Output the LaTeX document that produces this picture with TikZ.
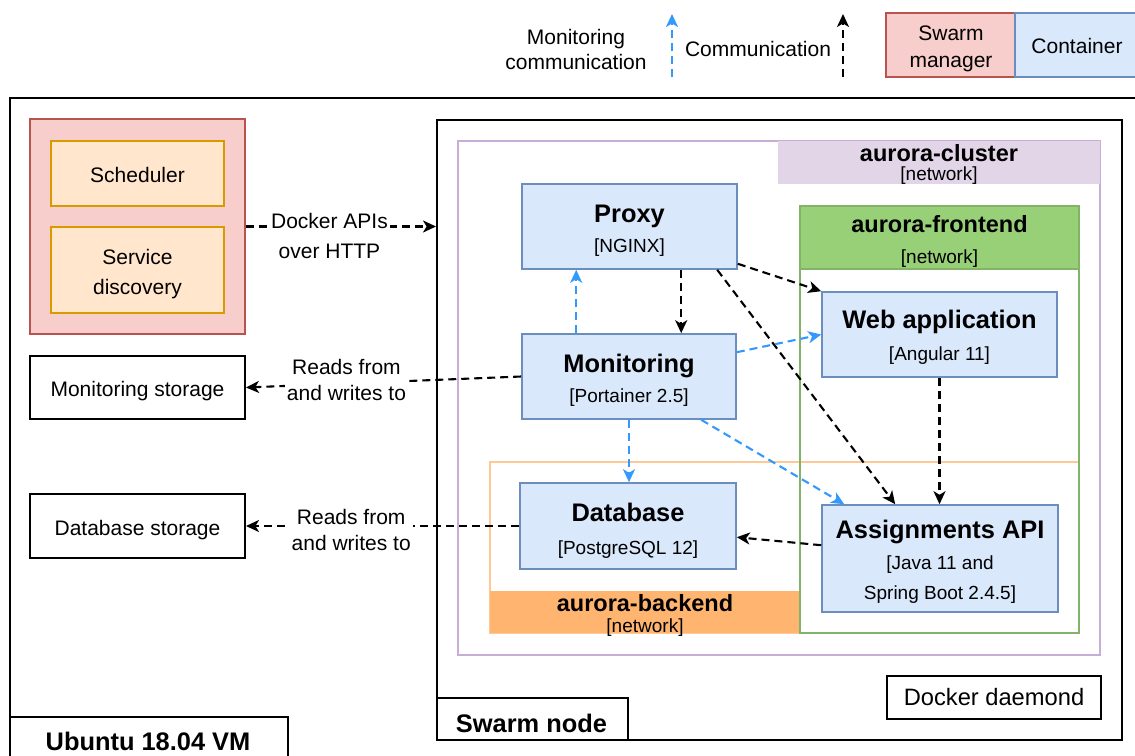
\documentclass[tikz,border=0pt]{standalone}
\usepackage{fontspec}
\setmainfont{Liberation Sans}
\usetikzlibrary{arrows.meta,fit,calc}
\definecolor{mblue}{HTML}{3399FF}
\definecolor{mgrf}{HTML}{F8CECC}
\definecolor{mgrs}{HTML}{B85450}
\definecolor{compf}{HTML}{FFE6CC}
\definecolor{comps}{HTML}{D79B00}
\definecolor{contf}{HTML}{DAE8FC}
\definecolor{conts}{HTML}{6C8EBF}
\definecolor{clus}{HTML}{C6AED6}
\definecolor{clusf}{HTML}{E1D5E7}
\definecolor{frs}{HTML}{82B366}
\definecolor{frf}{HTML}{97D077}
\definecolor{bks}{HTML}{FFC894}
\definecolor{bkf}{HTML}{FFB570}
\newcommand{\fReg}{\fontsize{10.5}{12.6}\selectfont}
\newcommand{\fTtl}{\fontsize{12.7}{15}\selectfont\bfseries}
\newcommand{\fSub}{\fontsize{9.5}{11.4}\selectfont}
\newcommand{\fNet}{\fontsize{11.75}{14}\selectfont\bfseries}
\newcommand{\fDd}{\fontsize{11.85}{14}\selectfont}
\begin{document}
\begin{tikzpicture}[x=0.5pt,y=-0.5pt,
  bx/.style={inner sep=0pt},
  vmbox/.style={bx, draw=black, line width=1.3pt},
  plainbox/.style={bx, draw=black, line width=1pt, fill=white},
  mgrbox/.style={bx, draw=mgrs, fill=mgrf, line width=0.8pt},
  compbox/.style={bx, draw=comps, fill=compf, line width=0.9pt},
  contbox/.style={bx, draw=conts, fill=contf, line width=0.8pt},
  clusbox/.style={bx, draw=clus, line width=0.7pt},
  clushdr/.style={bx, fill=clusf},
  frbox/.style={bx, draw=frs, line width=0.7pt},
  frhdr/.style={bx, fill=frf, draw=frs, line width=0.7pt},
  bkbox/.style={bx, draw=bks, line width=0.7pt},
  bkhdr/.style={bx, fill=bkf},
  tx/.style={inner sep=0pt, anchor=base},
  lbl/.style={fill=white, inner sep=1pt, align=center, font=\fontsize{10.5}{13}\selectfont},
  conn/.style={-{Stealth[length=6.5pt,width=6pt,inset=1.8pt]}, dash pattern=on 4pt off 2.5pt, line width=1.05pt, draw=black},
  mconn/.style={conn, draw=mblue, -{Stealth[length=6.5pt,width=6pt,inset=1.8pt,fill=mblue]}}
]
\useasboundingbox (0,0) rectangle (1135,755);

% legend
\node[tx, font=\fReg] (lg-mon1) at (576,44.5) {Monitoring};
\node[tx, font=\fReg] (lg-mon2) at (576,69.5) {communication};
\coordinate (lg-b1) at (672,77);
\coordinate (lg-t1) at (672,14);
\draw[mconn] (lg-b1) -- (lg-t1);
\node[tx, font=\fReg] (lg-com) at (758,56.5) {Communication};
\coordinate (lg-b2) at (843,77);
\coordinate (lg-t2) at (843,14);
\draw[conn] (lg-b2) -- (lg-t2);
\node[mgrbox, fit={(886,13)(1015,77)}] (lg-mgr) {};
\node[contbox, fit={(1015,13)(1150,77)}] (lg-cont) {};
\node[tx, font=\fReg] (lg-mgr1) at (951,40.5) {Swarm};
\node[tx, font=\fReg] (lg-mgr2) at (951,67.5) {manager};
\node[tx, font=\fReg] (lg-cont-t) at (1077,53.5) {Container};

% VM frame
\node[vmbox, fit={(10,98)(1150,775)}] (vm) {};
\node[plainbox, line width=1.3pt, fit={(10,717)(288,775)}] (vmlabel) {};
\node[tx, font=\fTtl] (vm-t) at (148,750.5) {Ubuntu 18.04 VM};

% swarm manager
\node[mgrbox, fit={(30,119)(245,334)}] (mgr) {};
\node[compbox, fit={(51,141)(224,206)}] (sched) {};
\node[compbox, fit={(51,227)(224,313)}] (sd) {};
\node[tx, font=\fReg] (sched-t) at (137.5,182.5) {Scheduler};
\node[tx, font=\fReg] (sd-t1) at (137.5,264.5) {Service};
\node[tx, font=\fReg] (sd-t2) at (137.5,294.5) {discovery};

% storages
\node[plainbox, fit={(30,356)(245,419)}] (monst) {};
\node[tx, font=\fReg] (monst-t) at (137.5,396.5) {Monitoring storage};
\node[plainbox, fit={(30,494)(245,558)}] (dbst) {};
\node[tx, font=\fReg] (dbst-t) at (137.5,535.5) {Database storage};

% swarm node
\node[plainbox, fit={(437,120)(1122,740)}] (swarm) {};
\node[plainbox, fit={(437,698)(628,740)}] (swarmlabel) {};
\node[tx, font=\fTtl] (swarm-t) at (531.5,732) {Swarm node};
\node[plainbox, fit={(887,676)(1101,719)}] (docker) {};
\node[tx, font=\fDd] (docker-t) at (994,705.5) {Docker daemond};

% networks
\node[clusbox, fit={(458,141)(1100,655)}] (cluster) {};
\node[clushdr, fit={(778,141)(1100,184)}] (clusterhdr) {};
\draw[clus, line width=0.7pt] (cluster.north west) rectangle (cluster.south east);
\node[tx, font=\fNet] (cluster-t) at (939,161.5) {aurora-cluster};
\node[tx, font=\fSub] (cluster-s) at (939,180) {[network]};

\node[bkbox, fit={(490,462)(1079,633)}] (back) {};
\node[frbox, fit={(800,206)(1079,633)}] (front) {};
\node[frhdr, fit={(800,206)(1079,269)}] (fronthdr) {};
\node[tx, font=\fNet] (front-t) at (939.5,232.5) {aurora-frontend};
\node[tx, font=\fSub] (front-s) at (939.5,263) {[network]};

\node[bkhdr, fit={(490,591)(800,633)}] (backhdr) {};
\draw[frs, line width=0.7pt] (800,591) -- (800,633) -- (1079,633);
\node[tx, font=\fNet] (back-t) at (645,611.5) {aurora-backend};
\node[tx, font=\fSub] (back-s) at (645,632) {[network]};

% containers
\node[contbox, fit={(522,184)(737,269)}] (proxy) {};
\node[tx, font=\fTtl] (proxy-t) at (629.5,222) {Proxy};
\node[tx, font=\fSub] (proxy-s) at (629.5,252) {[NGINX]};

\node[contbox, fit={(522,334)(736,419)}] (mon) {};
\node[tx, font=\fTtl] (mon-t) at (629,372) {Monitoring};
\node[tx, font=\fSub] (mon-s) at (629,402) {[Portainer 2.5]};

\node[contbox, fit={(520,483)(736,569)}] (db) {};
\node[tx, font=\fTtl] (db-t) at (628,521) {Database};
\node[tx, font=\fSub] (db-s) at (628,554) {[PostgreSQL 12]};

\node[contbox, fit={(822,292)(1057,377)}] (web) {};
\node[tx, font=\fTtl] (web-t) at (939.5,328) {Web application};
\node[tx, font=\fSub] (web-s) at (939.5,360) {[Angular 11]};

\node[contbox, fit={(822,505)(1058,612)}] (api) {};
\node[tx, font=\fTtl] (api-t) at (940,538) {Assignments API};
\node[tx, font=\fSub] (api-s1) at (940,569) {[Java 11 and};
\node[tx, font=\fSub] (api-s2) at (940,599) {Spring Boot 2.4.5]};

% connectors
\draw[conn] (mgr.east) -- node[lbl, pos=0.44, yshift=-4.75pt, font=\fontsize{10.5}{15}\selectfont] (l-docker) {Docker APIs\\over HTTP} (mgr.east -| swarm.west);
\draw[conn] (mon.west) -- node[lbl, pos=0.635, yshift=1.8pt] (l-monrw) {Reads from\\and writes to} (monst.east);
\draw[conn] (db.west) -- node[lbl, pos=0.615, yshift=-1.9pt] (l-dbrw) {Reads from\\and writes to} (dbst.east);

\draw[conn] ($(proxy.south west)+(160,0)$) -- ($(mon.north west)+(160,0)$);
\draw[mconn] ($(mon.north west)+(55,0)$) -- ($(proxy.south west)+(55,0)$);
\draw[conn] ($(proxy.south east)+(0,-6)$) -- (web.north west);
\draw[conn] ($(proxy.south west)+(196,0)$) -- ($(api.north west)+(74,0)$);
\draw[mconn] ($(mon.north east)+(0,19)$) -- (web.west);
\draw[mconn] (mon.south) -- (mon.south |- db.north);
\draw[mconn] ($(mon.south west)+(180,0)$) -- ($(api.north west)+(23,0)$);
\draw[conn] (web.south) -- (web.south |- api.north);
\draw[conn] ($(api.north west)+(0,41)$) -- ($(db.north east)+(0,55)$);
\end{tikzpicture}
\end{document}
